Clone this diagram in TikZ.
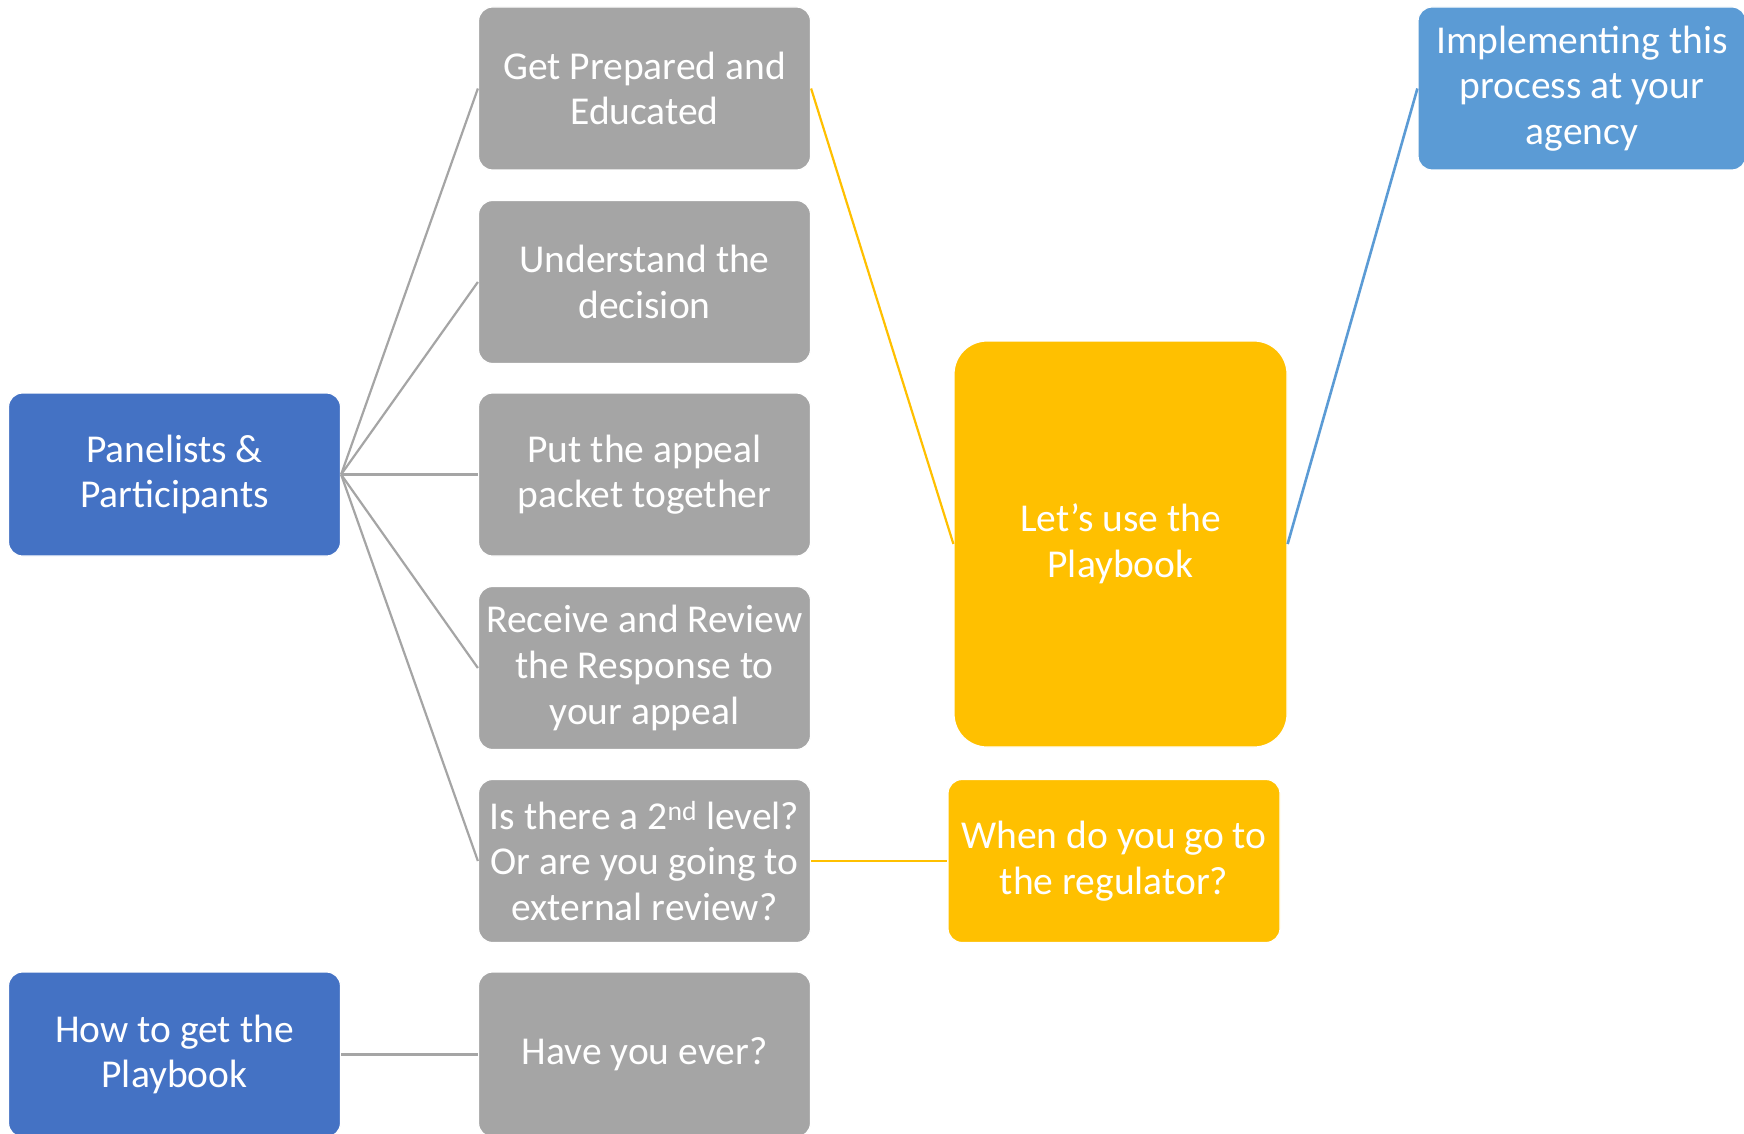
\documentclass[tikz,border=0pt]{standalone}
\usepackage{fontspec}
\setmainfont{Carlito}
\definecolor{dblue}{HTML}{4472C4}
\definecolor{lblue}{HTML}{5B9BD5}
\definecolor{sgray}{HTML}{A5A5A5}
\definecolor{syell}{HTML}{FFC000}
\begin{document}
\begin{tikzpicture}[x=1pt,y=-1pt,
  box/.style={draw=white, line width=1.2pt, rounded corners=14pt, minimum width=332pt, minimum height=163pt,
    inner sep=0pt, align=center, text=white, font=\fontsize{39.5}{45.6}\selectfont},
  graybox/.style={box, fill=sgray},
  bluebox/.style={box, fill=dblue},
  yelbox/.style={box, fill=syell},
  lbluebox/.style={box, fill=lblue},
  gline/.style={draw=sgray, line width=2.2pt},
  yline/.style={draw=syell, line width=2.2pt},
  bline/.style={draw=lblue, line width=2.6pt}]
\useasboundingbox (0,0) rectangle (1744,1134);
\fill[white] (0,0) rectangle (1744,1134);

\node[bluebox] (pan) at (174.5,474.5) {Panelists \&\\Participants};
\node[bluebox, minimum height=165pt] (how) at (174.5,1054.5) {How to get the\\Playbook};

\node[graybox] (g1) at (644.5,88.5) {Get Prepared and\\Educated};
\node[graybox] (g2) at (644.5,282) {Understand the\\decision};
\node[graybox] (g3) at (644.5,474.5) {Put the appeal\\packet together};
\node[graybox] (g4) at (644.5,668) {Receive and Review\\the Response to\\your appeal};
\node[graybox] (g5) at (644.5,861) {Is there a 2\textsuperscript{nd} level?\\Or are you going to\\external review?};
\node[graybox, minimum height=165pt] (g6) at (644.5,1054.5) {Have you ever?};

\node[yelbox, rounded corners=33pt, minimum width=333pt, minimum height=406pt] (play) at (1120.5,544) {Let’s use the\\Playbook};
\node[yelbox] (when) at (1114,861) {When do you go to\\the regulator?};

\node[lbluebox, minimum width=328pt] (impl) at (1582,88.5) {Implementing this\\process at your\\agency};

\foreach \g in {g1,g2,g3,g4,g5} \draw[gline] (pan.east) -- (\g.west);
\draw[gline] (how.east) -- (g6.west);
\draw[yline] (g1.east) -- (play.west);
\draw[yline] (g5.east) -- (when.west);
\draw[bline] (play.east) -- (impl.west);
\end{tikzpicture}
\end{document}
